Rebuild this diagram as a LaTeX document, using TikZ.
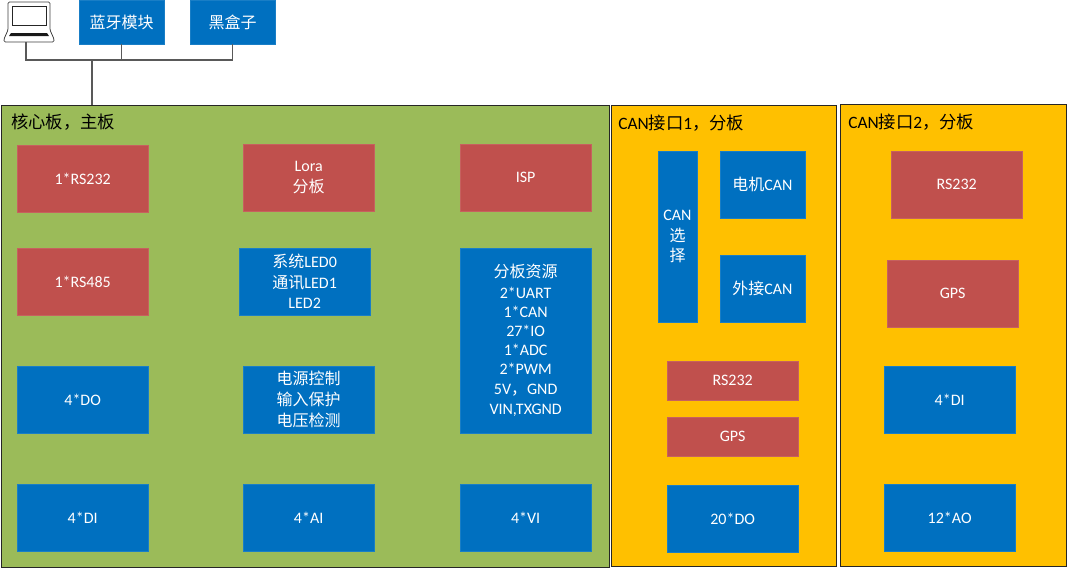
\documentclass[tikz,border=0pt]{standalone}
\usepackage{fontspec}
\setmainfont{Carlito}
\newfontfamily\cjk{Noto Sans CJK SC}
\newcommand{\zh}[1]{{\cjk\fontsize{12}{12}\selectfont #1}}
\newcommand{\zhtitle}[1]{{\cjk\fontsize{13}{13}\selectfont #1}}
\usetikzlibrary{positioning}
\definecolor{boardgreen}{HTML}{9BBB59}
\definecolor{boardyellow}{HTML}{FFC000}
\definecolor{boxblue}{HTML}{0070C0}
\definecolor{boxred}{HTML}{C0504D}

\begin{document}
\begin{tikzpicture}[
  x=0.75pt, y=-0.75pt,
  board/.style={draw=black!85, line width=0.75pt, anchor=north west, inner sep=0pt, outer sep=0pt},
  boardtitle/.style={anchor=west, inner sep=0pt, text=black, font=\fontsize{13}{14}\selectfont},
  redbox/.style={fill=boxred, draw=boxred!90!white, line width=0.3pt, inner sep=0pt, outer sep=0pt,
                 minimum width=98.5pt, minimum height=50.25pt, align=center, text=white,
                 font=\fontsize{12}{14.25}\selectfont},
  bluebox/.style={redbox, fill=boxblue, draw=boxblue!90!white},
  wire/.style={draw=black!65, line width=0.8pt},
  laptopline/.style={draw=black!75, line width=0.6pt, rounded corners=1pt},
]
\useasboundingbox (0,0) rectangle (1068,568);

% --- Boards ---
\node[board, fill=boardgreen, minimum width=456pt, minimum height=346.5pt] (mainboard) at (1,105) {};
\node[board, fill=boardyellow, minimum width=168.75pt, minimum height=346pt] (canone) at (611,105.5) {};
\node[board, fill=boardyellow, minimum width=169.5pt, minimum height=346.5pt] (cantwo) at (840,104) {};

\node[boardtitle] (maintitle) at (11,122) {\zhtitle{核心板，主板}};
\node[boardtitle] (canonetitle) at (618,123) {CAN\zhtitle{接口}1\zhtitle{，分板}};
\node[boardtitle] (cantwotitle) at (848,122) {CAN\zhtitle{接口}2\zhtitle{，分板}};

% --- Main board, left column ---
\node[redbox, anchor=north west] (rsA) at (17,145) {1*RS232};
\node[redbox, below=27pt of rsA] (rsB) {1*RS485};
\node[bluebox, below=38.25pt of rsB] (doA) {4*DO};
\node[bluebox, below=38.25pt of doA] (diA) {4*DI};

% --- Main board, middle column ---
\node[redbox, anchor=north west] (lora) at (243,144) {Lora\\[2pt]\zh{分板}};
\node[bluebox, anchor=north west] (led) at (239,248) {\zh{系统}LED0\\[1pt]\zh{通讯}LED1\\[1pt]LED2};
\node[bluebox, anchor=north west] (power) at (243,366) {\zh{电源控制}\\[1.5pt]\zh{输入保护}\\[1.5pt]\zh{电压检测}};
\node[bluebox, below=38.25pt of power] (ai) {4*AI};

% --- Main board, right column ---
\node[redbox, anchor=north west] (isp) at (460,144) {ISP};
\node[bluebox, below=27.75pt of isp, minimum height=139pt] (res)
  {\zh{分板资源}\\[1pt]2*UART\\1*CAN\\27*IO\\1*ADC\\2*PWM\\[1pt]5V\zh{，}GND\\[1pt]VIN,TXGND};
\node[bluebox, below=38.25pt of res] (vi) {4*VI};

% --- CAN board 1 ---
\node[bluebox, anchor=north west, minimum width=29.25pt, minimum height=128.25pt] (select) at (658,151)
  {CAN\\[1pt]\zh{选}\\[1pt]\zh{择}};
\node[bluebox, right=17.25pt of select.north east, anchor=north west, minimum width=63.75pt] (motorcan) {\zh{电机}CAN};
\node[bluebox, below=27.75pt of motorcan, minimum width=63.75pt] (extcan) {\zh{外接}CAN};
\node[redbox, anchor=north west, minimum height=29.25pt] (rsC) at (667,361) {RS232};
\node[redbox, below=12.75pt of rsC, minimum height=29.25pt] (gpsA) {GPS};
\node[bluebox, below=21.75pt of gpsA] (doB) {20*DO};

% --- CAN board 2 ---
\node[redbox, anchor=north west] (rsD) at (891,151) {RS232};
\node[redbox, below=31.5pt of rsD, xshift=-3pt] (gpsB) {GPS};
\node[bluebox, below=29.25pt of gpsB, xshift=-2.25pt] (diB) {4*DI};
\node[bluebox, below=38.25pt of diB] (ao) {12*AO};

% --- Top row ---
\node[bluebox, anchor=north west, minimum width=63.75pt, minimum height=33pt] (lanya) at (79,0) {\zh{蓝牙模块}};
\node[bluebox, anchor=north west, minimum width=63.75pt, minimum height=33pt] (heihe) at (190,0) {\zh{黑盒子}};

% --- Laptop ---
\draw[laptopline, fill=white] (8,30) -- (8,2) -- (50,2) -- (50,30) -- (54,39) -- (54,42) -- (4,42) -- (4,39) -- cycle;
\draw[draw=black!85, line width=0.6pt] (12,6) rectangle (46,25);
\fill[black!90] (11,33) -- (47,33) -- (49,36) -- (9,36) -- cycle;
\coordinate (laptop) at (26,42);

% --- Bus ---
\coordinate (busjoint) at (92,60);
\draw[wire] (laptop) |- (busjoint) -| (heihe.south);
\draw[wire] (lanya.south) -- (lanya.south |- busjoint);
\draw[wire] (busjoint) -- (busjoint |- mainboard.north);

\end{tikzpicture}
\end{document}
